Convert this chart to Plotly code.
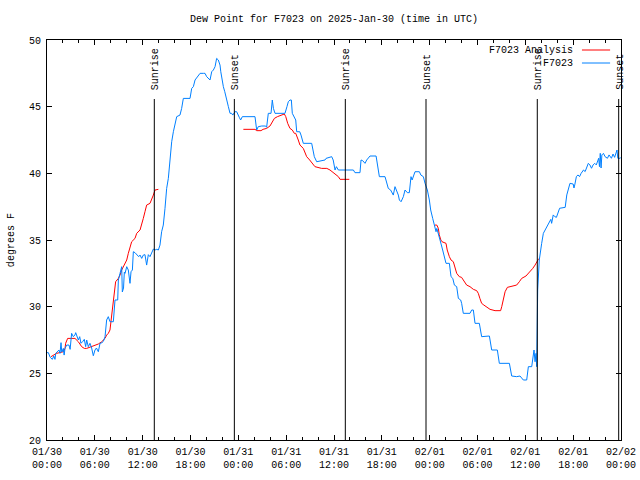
import plotly.graph_objects as go

# ---- data (hours since 2025-01-30 00:00 UTC, dew point in degrees F) ----
obs_hours = [0.0,0.17,0.4,0.67,0.85,1.0,1.1,1.3,1.5,1.63,1.76,1.85,2.05,2.15,2.26,2.47,2.76,2.9,3.01,3.09,
             3.3,3.5,3.6,3.75,3.93,4.1,4.26,4.5,4.68,4.85,4.98,5.18,5.39,5.6,5.81,6.02,6.2,6.44,6.65,6.9,
             7.07,7.28,7.48,7.69,7.9,8.32,8.53,8.87,8.95,9.16,9.28,9.37,9.45,9.6,9.7,9.79,10.0,10.2,10.41,10.54,
             10.71,10.83,11.04,11.25,11.5,11.67,11.88,12.08,12.29,12.5,12.71,12.92,13.13,13.34,13.55,13.76,13.97,14.17,14.38,14.59,
             14.8,15.01,15.22,15.43,15.64,15.85,16.06,16.27,16.68,16.89,17.1,17.94,18.15,18.36,18.57,18.99,19.2,19.61,19.82,20.03,
             20.25,20.45,20.66,20.87,21.08,21.28,21.49,21.7,21.8,21.91,22.12,22.3,22.54,22.75,22.96,23.16,23.3,23.58,23.79,23.95,
             24.12,24.29,24.5,26.09,26.3,26.5,26.93,27.43,27.55,27.76,28.1,28.26,28.4,28.6,29.85,30.1,30.27,30.48,30.65,30.77,
             31.02,31.2,31.32,31.7,31.86,32.15,33.2,33.35,33.53,33.83,34.87,35.0,35.71,35.9,36.13,36.3,36.55,38.43,38.63,39.26,
             39.39,39.6,39.89,40.1,40.52,41.28,41.44,41.69,42.4,42.61,42.81,43.1,43.44,43.65,43.85,44.07,44.2,44.41,44.7,44.91,
             45.2,45.45,45.66,45.8,46.16,46.71,46.9,47.21,47.42,47.71,47.96,48.13,48.38,48.67,48.8,48.9,49.09,49.3,49.63,49.8,
             50.05,50.47,50.68,50.9,51.1,51.39,51.6,51.89,52.01,52.22,53.06,53.27,53.48,53.69,54.23,54.52,55.49,55.78,56.49,56.74,
             58.0,58.29,58.91,59.33,59.75,60.17,60.38,60.8,60.93,61.09,61.22,61.34,61.42,61.46,61.48,61.5,61.55,61.75,61.9,62.05,
             62.26,62.5,62.7,62.9,63.1,63.2,63.3,63.5,63.7,63.9,64.3,65.0,65.2,65.4,65.6,66.0,66.1,66.2,66.4,66.6,
             66.8,67.0,67.3,67.5,67.7,67.9,68.1,68.3,68.5,68.7,68.9,69.2,69.3,69.4,69.5,69.6,69.8,70.0,70.3,70.5,
             70.8,71.0,71.2,71.5,71.6,71.9,72.0]
obs_values = [26.55,26.55,26.2,26.05,26.3,26.05,26.5,26.62,26.75,26.5,27.3,26.6,26.87,26.37,26.87,27.12,27.12,26.8,27.7,28.0,
              27.75,27.87,28.05,27.75,27.5,27.75,27.25,27.4,27.55,27.0,27.5,27.0,27.25,26.9,26.32,26.75,26.9,26.62,27.25,27.3,
              27.4,27.75,29.0,29.25,28.87,28.87,30.5,30.5,32.0,32.5,32.75,33.0,31.1,31.4,32.6,32.5,33.0,32.75,31.75,32.62,
              32.75,34.12,34.05,33.9,33.75,33.87,33.62,33.87,33.9,33.12,33.9,33.75,34.1,34.32,34.25,34.3,34.25,34.62,35.62,36.12,
              37.37,38.87,39.62,41.12,42.37,43.12,43.62,44.25,44.37,44.87,45.62,45.62,46.37,46.5,47.0,47.37,47.5,47.5,47.5,47.25,
              47.12,47.0,47.62,47.75,48.0,48.62,48.5,48.12,47.62,47.12,46.5,46.12,45.62,45.0,44.5,44.5,44.37,44.62,44.62,44.37,
              44.2,44.0,44.25,44.25,43.25,43.5,43.55,43.55,43.45,44.5,44.5,45.5,44.87,44.5,44.5,45.0,45.37,45.5,45.5,44.5,
              44.12,44.0,43.12,43.12,42.87,42.25,42.25,41.62,41.25,40.87,41.0,41.12,41.25,41.0,40.25,40.5,40.25,40.25,40.05,40.05,
              41.0,40.95,40.75,41.0,41.3,41.3,40.75,39.75,39.75,39.37,38.87,38.75,38.37,39.0,38.75,38.37,38.0,37.87,38.25,38.75,
              38.55,38.55,39.75,39.5,40.12,40.12,39.87,39.75,39.25,38.75,38.0,37.25,36.62,36.0,35.62,35.87,35.5,35.0,34.25,33.87,
              33.25,33.25,32.25,32.12,31.62,31.5,30.62,30.5,30.25,29.5,29.5,29.75,29.75,28.75,28.75,27.75,27.8,26.75,26.75,25.75,
              25.75,24.8,24.75,24.8,24.5,24.5,25.5,25.5,26.25,26.75,25.87,26.5,25.5,28.25,25.6,28.25,31.25,33.5,34.25,34.75,
              35.5,35.75,36.0,36.25,36.38,36.55,36.25,36.88,36.75,36.7,37.38,37.45,38.38,38.88,39.25,39.2,38.9,39.13,39.75,39.88,
              39.75,40.0,40.25,40.13,40.5,40.75,40.63,40.38,40.63,40.75,40.63,41.13,40.5,41.5,40.4,41.38,41.5,41.25,41.13,41.38,
              41.13,41.45,41.2,41.75,41.13,41.13,41.2]

ana_hours = [0.5,1.21,2.05,2.26,2.34,2.59,3.51,3.93,4.35,4.68,4.98,5.6,6.44,6.86,7.28,7.48,7.69,7.9,8.11,8.32,
             8.45,8.61,8.95,9.16,9.37,9.58,9.79,10.0,10.2,10.41,10.62,11.04,11.25,11.67,11.88,12.08,12.29,12.5,12.92,13.13,
             13.34,13.55,13.97,None,
             24.63,26.09,26.3,26.84,27.1,27.55,27.97,28.18,28.52,28.9,29.43,29.77,29.95,30.19,30.48,30.77,31.02,31.2,31.52,31.73,
             32.15,32.35,32.57,32.95,33.28,33.61,34.45,35.1,35.5,35.8,36.13,36.55,36.76,37.92,None,
             48.67,48.9,49.09,49.2,49.4,49.55,50.05,50.2,50.47,50.68,50.97,51.18,51.39,51.72,52.0,52.22,52.64,53.06,53.48,53.9,
             54.1,54.3,54.52,54.8,55.15,55.57,56.2,56.9,57.04,57.25,57.46,57.75,58.29,58.91,59.25,59.54,60.08,60.59,60.93,61.22,
             61.43,61.63,61.76]
ana_values = [26.25,26.5,26.62,26.87,27.25,27.62,27.62,27.37,27.0,26.87,26.87,27.0,27.2,27.37,27.62,27.87,28.0,28.25,29.25,30.25,
              30.75,31.87,32.12,32.37,32.75,33.0,33.25,33.5,34.0,34.5,34.87,35.12,35.5,35.75,36.12,36.62,37.12,37.62,37.75,38.0,
              38.37,38.75,38.8,None,
              43.3,43.3,43.2,43.2,43.3,43.37,43.55,43.8,44.12,44.25,44.37,44.45,44.25,43.75,43.37,43.25,43.0,43.0,42.5,42.12,
              41.87,41.62,41.25,41.0,40.75,40.5,40.37,40.37,40.25,40.12,39.95,39.75,39.55,39.55,None,
              36.12,36.12,35.87,35.4,35.0,34.87,34.75,34.25,33.75,33.5,33.37,32.87,32.5,32.25,32.2,32.0,31.62,31.5,31.3,31.2,
              31.0,30.62,30.25,30.12,29.95,29.8,29.7,29.7,30.0,30.62,31.12,31.45,31.55,31.62,31.87,32.12,32.3,32.62,32.87,33.12,
              33.37,33.55,33.62]

sun_hours = [13.46, 23.5, 37.42, 47.54, 61.5, 71.71]
sun_labels = ["Sunrise", "Sunset", "Sunrise", "Sunset", "Sunrise", "Sunset"]

tick_hours = [0, 6, 12, 18, 24, 30, 36, 42, 48, 54, 60, 66, 72]
tick_labels = ["01/30<br>00:00", "01/30<br>06:00", "01/30<br>12:00", "01/30<br>18:00",
               "01/31<br>00:00", "01/31<br>06:00", "01/31<br>12:00", "01/31<br>18:00",
               "02/01<br>00:00", "02/01<br>06:00", "02/01<br>12:00", "02/01<br>18:00",
               "02/02<br>00:00"]

series_names = ["F7023 Analysis", "F7023"]
series_colors = ["#ff0000", "#0080ff"]
title_text = "Dew Point for F7023 on 2025-Jan-30 (time in UTC)"
y_title = "degrees F"

FONT = "Liberation Mono, DejaVu Sans Mono, monospace"

fig = go.Figure()
fig.add_trace(go.Scatter(x=ana_hours, y=ana_values, mode="lines", name=series_names[0],
                         line=dict(color=series_colors[0], width=1), connectgaps=False,
                         showlegend=False, hoverinfo="skip"))
fig.add_trace(go.Scatter(x=obs_hours, y=obs_values, mode="lines", name=series_names[1],
                         line=dict(color=series_colors[1], width=1), showlegend=False,
                         hoverinfo="skip"))

shapes = []
annotations = []
for h, lab in zip(sun_hours, sun_labels):
    shapes.append(dict(type="line", xref="x", yref="paper", x0=h, x1=h, y0=0, y1=0.8525,
                       line=dict(color="black", width=1)))
    annotations.append(dict(x=h, y=0.87, xref="x", yref="paper", text=lab, showarrow=False,
                            textangle=-90, xanchor="center", yanchor="bottom", xshift=1,
                            font=dict(family=FONT, size=10, color="black")))

# legend (gnuplot style: text right, sample line on the right)
leg_y = [0.975, 0.9425]
for name, col, ly in zip(series_names, series_colors, leg_y):
    annotations.append(dict(x=0.919, y=ly, xref="paper", yref="paper", text=name, showarrow=False,
                            xanchor="right", yanchor="middle",
                            font=dict(family=FONT, size=10, color="black")))
    shapes.append(dict(type="line", xref="paper", yref="paper", x0=0.932, x1=0.981, y0=ly, y1=ly,
                       line=dict(color=col, width=1)))

annotations.append(dict(x=0.5, y=1.0525, xref="paper", yref="paper", text=title_text, showarrow=False,
                        xanchor="center", yanchor="middle",
                        font=dict(family=FONT, size=10, color="black")))
annotations.append(dict(x=-0.0625, y=0.5, xref="paper", yref="paper", text=y_title, showarrow=False,
                        xanchor="center", yanchor="middle", textangle=-90,
                        font=dict(family=FONT, size=10, color="black")))

fig.update_layout(
    width=640, height=480,
    margin=dict(l=47, r=19, t=40, b=40, autoexpand=False),
    paper_bgcolor="white", plot_bgcolor="white",
    font=dict(family=FONT, size=10, color="black"),
    shapes=shapes, annotations=annotations,
    showlegend=False, hovermode=False,
)
fig.update_xaxes(range=[0, 72], tickmode="array", tickvals=tick_hours, ticktext=tick_labels,
                 ticks="inside", ticklen=5, tickcolor="black", showline=True, linecolor="black",
                 linewidth=1, mirror="allticks", showgrid=False, zeroline=False, automargin=False,
                 ticklabelstandoff=2,
                 minor=dict(ticks="inside", ticklen=3, dtick=2, tick0=0, tickcolor="black", showgrid=False),
                 tickfont=dict(family=FONT, size=10, color="black"))
fig.update_yaxes(range=[20, 50], dtick=5, tick0=20, ticks="inside", ticklen=5, tickcolor="black",
                 showline=True, linecolor="black", linewidth=1, mirror="allticks", automargin=False,
                 showgrid=False, zeroline=False, ticklabelstandoff=3,
                 tickfont=dict(family=FONT, size=10, color="black"))

fig.write_html("out.html", config={"displayModeBar": False},
               post_script="document.body.style.margin='0';")
